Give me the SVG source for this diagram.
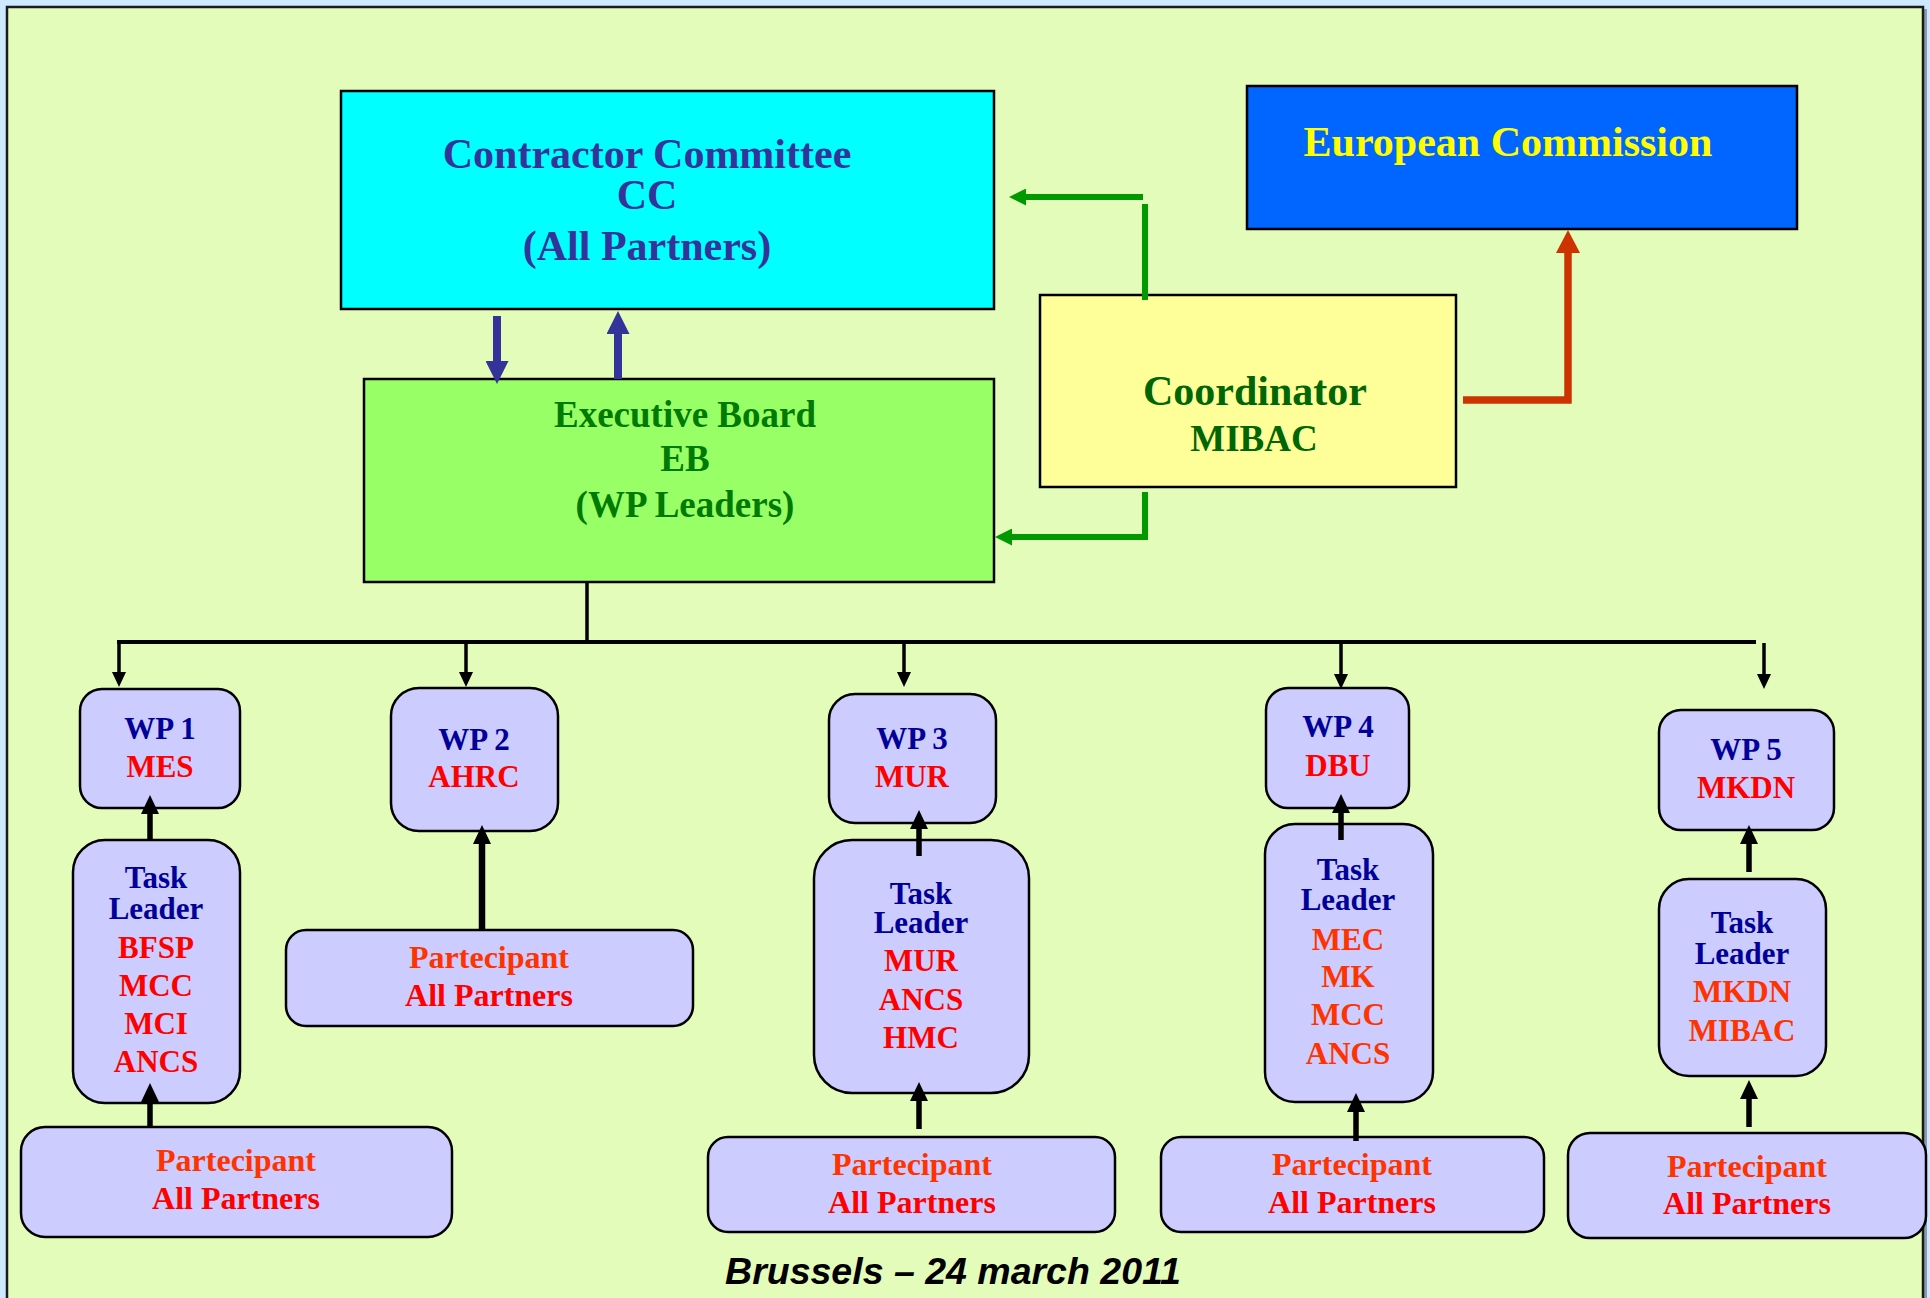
<svg xmlns="http://www.w3.org/2000/svg" width="1930" height="1298" viewBox="0 0 1930 1298">
<style>
.t{font-family:"Liberation Serif","Times New Roman",serif;font-weight:bold;text-anchor:middle}
.s31{font-size:31px}
.s32{font-size:32px}
.navy{fill:#000099}
.red{fill:#FF0000}
.org{fill:#FF3300}
.box{fill:#CCCCFF;stroke:#000;stroke-width:2.5}
.blk{stroke:#000;fill:none}
</style>
<defs>
<marker id="mBlue" markerUnits="userSpaceOnUse" viewBox="0 0 23 23" refX="0" refY="11.5" markerWidth="23" markerHeight="23" orient="auto"><path d="M0,0 L23,11.5 L0,23 Z" fill="#333399"/></marker>
<marker id="mRed" markerUnits="userSpaceOnUse" viewBox="0 0 23 24" refX="0" refY="12" markerWidth="23" markerHeight="24" orient="auto"><path d="M0,0 L23,12 L0,24 Z" fill="#CC3300"/></marker>
<marker id="mGreen" markerUnits="userSpaceOnUse" viewBox="0 0 17 17" refX="0" refY="8.5" markerWidth="17" markerHeight="17" orient="auto"><path d="M0,0 L17,8.5 L0,17 Z" fill="#009900"/></marker>
<marker id="mSmall" markerUnits="userSpaceOnUse" viewBox="0 0 15 14" refX="0" refY="7" markerWidth="15" markerHeight="14" orient="auto"><path d="M0,0 L15,7 L0,14 Z" fill="#000"/></marker>
<marker id="mThick" markerUnits="userSpaceOnUse" viewBox="0 0 19 18" refX="0" refY="9" markerWidth="19" markerHeight="18" orient="auto"><path d="M0,0 L19,9 L0,18 Z" fill="#000"/></marker>
</defs>
<rect x="0" y="0" width="1930" height="1298" fill="#CCE9FF"/>
<rect x="1924" y="9" width="3" height="1300" fill="#8A9AAA"/>
<rect x="7" y="7" width="1916" height="1300" fill="#E3FCB9" stroke="#1a1a1a" stroke-width="2.5"/>

<g id="cc">
<rect x="341" y="91" width="653" height="218" fill="#00FFFF" stroke="#000" stroke-width="2.5"/>
<text class="t" font-size="42" fill="#333399" x="647" y="168">Contractor Committee</text>
<text class="t" font-size="42" fill="#333399" x="647" y="209">CC</text>
<text class="t" font-size="42" fill="#333399" x="647" y="260">(All Partners)</text>
</g>
<g id="ec">
<rect x="1247" y="86" width="550" height="143" fill="#0066FF" stroke="#000" stroke-width="2.5"/>
<text class="t" font-size="42" fill="#FFFF00" x="1508" y="156">European Commission</text>
</g>
<g id="coordinator">
<rect x="1040" y="295" width="416" height="192" fill="#FFFF99" stroke="#000" stroke-width="2.5"/>
<text class="t" font-size="42" fill="#006600" x="1255" y="405">Coordinator</text>
<text class="t" font-size="37" fill="#006600" x="1254" y="451">MIBAC</text>
</g>
<g id="eb">
<rect x="364" y="379" width="630" height="203" fill="#99FF66" stroke="#000" stroke-width="2.5"/>
<text class="t" font-size="37" fill="#007A00" x="685" y="427">Executive Board</text>
<text class="t" font-size="37" fill="#007A00" x="685" y="471">EB</text>
<text class="t" font-size="37" fill="#007A00" x="685" y="517">(WP Leaders)</text>
</g>

<g id="wp1">
<rect class="box" x="80" y="689" width="160" height="119" rx="22"/>
<text class="t s31 navy" x="160" y="739">WP 1</text>
<text class="t s31 red" x="160" y="777">MES</text>
</g>
<g id="tl1">
<rect class="box" x="73" y="840" width="167" height="263" rx="32"/>
<text class="t s31 navy" x="156" y="888">Task</text>
<text class="t s31 navy" x="156" y="919">Leader</text>
<text class="t s31 red" x="156" y="958">BFSP</text>
<text class="t s31 red" x="156" y="996">MCC</text>
<text class="t s31 red" x="156" y="1034">MCI</text>
<text class="t s31 red" x="156" y="1072">ANCS</text>
</g>
<g id="p1">
<rect class="box" x="21" y="1127" width="431" height="110" rx="24"/>
<text class="t s32 org" x="236" y="1171">Partecipant</text>
<text class="t s32 red" x="236" y="1209">All Partners</text>
</g>

<g id="wp2">
<rect class="box" x="391" y="688" width="167" height="143" rx="28"/>
<text class="t s31 navy" x="474" y="750">WP 2</text>
<text class="t s31 red" x="474" y="787">AHRC</text>
</g>
<g id="p2">
<rect class="box" x="286" y="930" width="407" height="96" rx="20"/>
<text class="t s32 org" x="489" y="968">Partecipant</text>
<text class="t s32 red" x="489" y="1006">All Partners</text>
</g>

<g id="wp3">
<rect class="box" x="829" y="694" width="167" height="129" rx="26"/>
<text class="t s31 navy" x="912" y="749">WP 3</text>
<text class="t s31 red" x="912" y="787">MUR</text>
</g>
<g id="tl3">
<rect class="box" x="814" y="840" width="215" height="253" rx="38"/>
<text class="t s31 navy" x="921" y="904">Task</text>
<text class="t s31 navy" x="921" y="933">Leader</text>
<text class="t s31 red" x="921" y="971">MUR</text>
<text class="t s31 red" x="921" y="1010">ANCS</text>
<text class="t s31 red" x="921" y="1048">HMC</text>
</g>
<g id="p3">
<rect class="box" x="708" y="1137" width="407" height="95" rx="20"/>
<text class="t s32 org" x="912" y="1175">Partecipant</text>
<text class="t s32 red" x="912" y="1213">All Partners</text>
</g>

<g id="wp4">
<rect class="box" x="1266" y="688" width="143" height="120" rx="22"/>
<text class="t s31 navy" x="1338" y="737">WP 4</text>
<text class="t s31 red" x="1338" y="776">DBU</text>
</g>
<g id="tl4">
<rect class="box" x="1265" y="824" width="168" height="278" rx="30"/>
<text class="t s31 navy" x="1348" y="880">Task</text>
<text class="t s31 navy" x="1348" y="910">Leader</text>
<text class="t s31 org" x="1348" y="950">MEC</text>
<text class="t s31 org" x="1348" y="987">MK</text>
<text class="t s31 org" x="1348" y="1025">MCC</text>
<text class="t s31 org" x="1348" y="1064">ANCS</text>
</g>
<g id="p4">
<rect class="box" x="1161" y="1137" width="383" height="95" rx="20"/>
<text class="t s32 org" x="1352" y="1175">Partecipant</text>
<text class="t s32 red" x="1352" y="1213">All Partners</text>
</g>

<g id="wp5">
<rect class="box" x="1659" y="710" width="175" height="120" rx="22"/>
<text class="t s31 navy" x="1746" y="760">WP 5</text>
<text class="t s31 red" x="1746" y="798">MKDN</text>
</g>
<g id="tl5">
<rect class="box" x="1659" y="879" width="167" height="197" rx="30"/>
<text class="t s31 navy" x="1742" y="933">Task</text>
<text class="t s31 navy" x="1742" y="964">Leader</text>
<text class="t s31 org" x="1742" y="1002">MKDN</text>
<text class="t s31 org" x="1742" y="1041">MIBAC</text>
</g>
<g id="p5">
<rect class="box" x="1568" y="1133" width="358" height="105" rx="22"/>
<text class="t s32 org" x="1747" y="1177">Partecipant</text>
<text class="t s32 red" x="1747" y="1214">All Partners</text>
</g>

<g id="connectors">
<line x1="497" y1="316" x2="497" y2="361" stroke="#333399" stroke-width="8" marker-end="url(#mBlue)"/>
<line x1="618" y1="379" x2="618" y2="334" stroke="#333399" stroke-width="8" marker-end="url(#mBlue)"/>
<line x1="1145" y1="204" x2="1145" y2="300" stroke="#009900" stroke-width="6"/>
<line x1="1143" y1="197" x2="1026" y2="197" stroke="#009900" stroke-width="6" marker-end="url(#mGreen)"/>
<polyline points="1145,492 1145,537 1012,537" fill="none" stroke="#009900" stroke-width="6" marker-end="url(#mGreen)"/>
<polyline points="1463,400 1568,400 1568,253" fill="none" stroke="#CC3300" stroke-width="7.5" marker-end="url(#mRed)"/>
<line class="blk" x1="587" y1="582" x2="587" y2="642" stroke-width="3.5"/>
<line class="blk" x1="117" y1="642" x2="1756" y2="642" stroke-width="4"/>
<line class="blk" x1="119" y1="642" x2="119" y2="672" stroke-width="3.5" marker-end="url(#mSmall)"/>
<line class="blk" x1="466" y1="642" x2="466" y2="672" stroke-width="3.5" marker-end="url(#mSmall)"/>
<line class="blk" x1="904" y1="642" x2="904" y2="672" stroke-width="3.5" marker-end="url(#mSmall)"/>
<line class="blk" x1="1341" y1="642" x2="1341" y2="674" stroke-width="3.5" marker-end="url(#mSmall)"/>
<line class="blk" x1="1764" y1="643" x2="1764" y2="674" stroke-width="3.5" marker-end="url(#mSmall)"/>
<line class="blk" x1="150" y1="840" x2="150" y2="814" stroke-width="5.5" marker-end="url(#mThick)"/>
<line class="blk" x1="150" y1="1128" x2="150" y2="1102" stroke-width="5.5" marker-end="url(#mThick)"/>
<line class="blk" x1="482" y1="930" x2="482" y2="844" stroke-width="6.5" marker-end="url(#mThick)"/>
<line class="blk" x1="919" y1="856" x2="919" y2="829" stroke-width="5.5" marker-end="url(#mThick)"/>
<line class="blk" x1="919" y1="1129" x2="919" y2="1101" stroke-width="5.5" marker-end="url(#mThick)"/>
<line class="blk" x1="1341" y1="840" x2="1341" y2="813" stroke-width="5.5" marker-end="url(#mThick)"/>
<line class="blk" x1="1356" y1="1141" x2="1356" y2="1112" stroke-width="5.5" marker-end="url(#mThick)"/>
<line class="blk" x1="1749" y1="872" x2="1749" y2="844" stroke-width="5.5" marker-end="url(#mThick)"/>
<line class="blk" x1="1749" y1="1127" x2="1749" y2="1099" stroke-width="5.5" marker-end="url(#mThick)"/>
</g>

<text x="953" y="1284" font-family="'Liberation Sans',Arial,sans-serif" font-weight="bold" font-style="italic" font-size="37.5" text-anchor="middle" fill="#000">Brussels – 24 march 2011</text>
</svg>
